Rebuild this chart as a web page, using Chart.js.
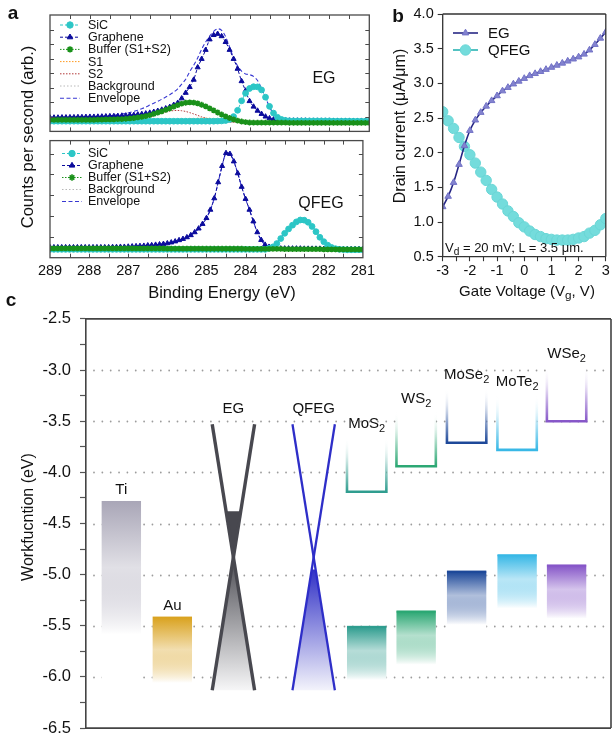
<!DOCTYPE html>
<html>
<head>
<meta charset="utf-8">
<script src="https://cdn.jsdelivr.net/npm/chart.js@4.4.1/dist/chart.umd.min.js"></script>
<style>
  body { margin: 0; background: #fff; }
  #page { position: relative; width: 612px; height: 747px; overflow: hidden;
          font-family: "Liberation Sans", Arial, sans-serif; color: #111; }
  canvas { position: absolute; }
  .t { position: absolute; white-space: nowrap; transform: translate(-50%, -50%); }
  .v { transform: translate(-50%, -50%) rotate(-90deg); }
  .l { position: absolute; white-space: nowrap; transform: translateY(-50%); }
  .lab { position: absolute; font-weight: bold; font-size: 19px; transform: translate(-50%, -50%); }
  sub { font-size: 78%; vertical-align: -0.3em; line-height: 0; }
</style>
</head>
<body>
<div id="page">
  <canvas id="aTop" width="380" height="137" style="left:0;top:0"></canvas>
  <canvas id="aBot" width="380" height="170" style="left:0;top:135px"></canvas>
  <canvas id="b" width="222" height="290" style="left:390px;top:0"></canvas>
  <canvas id="c" width="612" height="447" style="left:0;top:300px"></canvas>

  <div class="lab" style="left:13px;top:13px">a</div>
  <div class="lab" style="left:398px;top:16px">b</div>
  <div class="lab" style="left:11px;top:300px">c</div>

  <div class="t v" style="left:27px;top:137px;font-size:16.5px">Counts per second (arb.)</div>
  <div class="t" style="left:222px;top:292px;font-size:16.5px">Binding Energy (eV)</div>
  <div class="t" style="left:324px;top:78px;font-size:16px">EG</div>
  <div class="t" style="left:321px;top:203px;font-size:16px">QFEG</div>

  <div class="t v" style="left:400px;top:126px;font-size:16px">Drain current (μA/μm)</div>
  <div class="t" style="left:527px;top:290px;font-size:15px">Gate Voltage (V<sub>g</sub>, V)</div>
  <div class="l" style="left:445px;top:247px;font-size:13px">V<sub>d</sub> = 20 mV; L = 3.5 μm.</div>

  <div class="t v" style="left:28px;top:517px;font-size:16px">Workfucntion (eV)</div>
</div>

<script>
// ---------- panel a : XPS C1s spectra ----------
const energy = [
  289.0, 288.9, 288.8, 288.7, 288.6, 288.5, 288.4, 288.3, 288.2, 288.1,
  288.0, 287.9, 287.8, 287.7, 287.6, 287.5, 287.4, 287.3, 287.2, 287.1,
  287.0, 286.9, 286.8, 286.7, 286.6, 286.5, 286.4, 286.3, 286.2, 286.1,
  286.0, 285.9, 285.8, 285.7, 285.6, 285.5, 285.4, 285.3, 285.2, 285.1,
  285.0, 284.9, 284.8, 284.7, 284.6, 284.5, 284.4, 284.3, 284.2, 284.1,
  284.0, 283.9, 283.8, 283.7, 283.6, 283.5, 283.4, 283.3, 283.2, 283.1,
  283.0, 282.9, 282.8, 282.7, 282.6, 282.5, 282.4, 282.3, 282.2, 282.1,
  282.0, 281.9, 281.8, 281.7, 281.6, 281.5, 281.4, 281.3, 281.2, 281.1,
  281.0
];

// EG (top plot)
const sicEG = [
  0.70, 0.70, 0.70, 0.70, 0.70, 0.70, 0.70, 0.70, 0.70, 0.70,
  0.70, 0.70, 0.70, 0.70, 0.70, 0.70, 0.70, 0.70, 0.70, 0.70,
  0.70, 0.70, 0.70, 0.70, 0.70, 0.70, 0.70, 0.70, 0.70, 0.70,
  0.70, 0.70, 0.70, 0.70, 0.70, 0.70, 0.70, 0.70, 0.70, 0.70,
  0.70, 0.70, 0.71, 0.72, 0.75, 0.82, 1.02, 1.45, 2.10, 2.62,
  2.95, 3.07, 3.06, 2.85, 2.35, 1.72, 1.26, 0.97, 0.82, 0.76,
  0.73, 0.72, 0.72, 0.72, 0.72, 0.72, 0.72, 0.72, 0.72, 0.72,
  0.72, 0.71, 0.71, 0.71, 0.71, 0.71, 0.70, 0.70, 0.70, 0.70,
  0.70
];
const grapheneEG = [
  0.95, 0.95, 0.95, 0.96, 0.96, 0.97, 0.97, 0.98, 0.98, 0.99,
  1.00, 1.00, 1.01, 1.02, 1.03, 1.04, 1.05, 1.06, 1.08, 1.09,
  1.11, 1.13, 1.16, 1.19, 1.23, 1.28, 1.34, 1.41, 1.49, 1.58,
  1.68, 1.82, 1.96, 2.27, 2.65, 3.05, 3.55, 4.40, 4.98, 5.60,
  6.32, 6.62, 6.70, 6.54, 6.14, 5.60, 4.98, 4.30, 3.45, 2.80,
  2.08, 1.70, 1.42, 1.20, 1.02, 0.90, 0.82, 0.78, 0.76, 0.75,
  0.74, 0.74, 0.74, 0.74, 0.74, 0.73, 0.73, 0.73, 0.73, 0.73,
  0.73, 0.72, 0.72, 0.72, 0.72, 0.72, 0.72, 0.72, 0.72, 0.72,
  0.72
];
const bufferEG = [
  0.80, 0.80, 0.80, 0.80, 0.80, 0.80, 0.80, 0.80, 0.80, 0.80,
  0.80, 0.80, 0.81, 0.81, 0.82, 0.82, 0.83, 0.84, 0.85, 0.87,
  0.89, 0.92, 0.96, 1.00, 1.05, 1.12, 1.20, 1.29, 1.38, 1.48,
  1.58, 1.70, 1.81, 1.91, 1.97, 1.99, 1.98, 1.92, 1.83, 1.72,
  1.58, 1.44, 1.30, 1.16, 1.03, 0.92, 0.82, 0.74, 0.68, 0.64,
  0.61, 0.60, 0.60, 0.60, 0.60, 0.60, 0.60, 0.60, 0.60, 0.60,
  0.59, 0.59, 0.59, 0.59, 0.59, 0.59, 0.59, 0.59, 0.59, 0.59,
  0.58, 0.58, 0.58, 0.58, 0.58, 0.58, 0.58, 0.58, 0.58, 0.58,
  0.58
];
const s1EG = [
  0.66, 0.66, 0.66, 0.66, 0.66, 0.66, 0.66, 0.66, 0.66, 0.66,
  0.66, 0.66, 0.66, 0.66, 0.66, 0.66, 0.66, 0.66, 0.66, 0.66,
  0.66, 0.66, 0.66, 0.66, 0.66, 0.66, 0.67, 0.68, 0.69, 0.70,
  0.72, 0.74, 0.76, 0.79, 0.82, 0.85, 0.88, 0.90, 0.91, 0.91,
  0.90, 0.88, 0.85, 0.81, 0.77, 0.73, 0.70, 0.67, 0.65, 0.64,
  0.63, 0.62, 0.62, 0.62, 0.62, 0.62, 0.62, 0.62, 0.62, 0.62,
  0.61, 0.61, 0.61, 0.61, 0.61, 0.61, 0.61, 0.61, 0.61, 0.61,
  0.60, 0.60, 0.60, 0.60, 0.60, 0.60, 0.60, 0.60, 0.60, 0.60,
  0.60
];
const s2EG = [
  0.66, 0.66, 0.66, 0.66, 0.66, 0.66, 0.66, 0.66, 0.66, 0.66,
  0.66, 0.66, 0.66, 0.66, 0.67, 0.67, 0.68, 0.69, 0.70, 0.72,
  0.74, 0.77, 0.81, 0.86, 0.92, 0.99, 1.07, 1.16, 1.25, 1.33,
  1.39, 1.43, 1.44, 1.42, 1.37, 1.29, 1.20, 1.10, 1.00, 0.91,
  0.83, 0.77, 0.72, 0.68, 0.66, 0.64, 0.63, 0.63, 0.63, 0.62,
  0.62, 0.62, 0.62, 0.62, 0.62, 0.62, 0.62, 0.62, 0.62, 0.62,
  0.61, 0.61, 0.61, 0.61, 0.61, 0.61, 0.61, 0.61, 0.61, 0.61,
  0.60, 0.60, 0.60, 0.60, 0.60, 0.60, 0.60, 0.60, 0.60, 0.60,
  0.60
];
const backgroundEG = [
  0.68, 0.68, 0.68, 0.68, 0.68, 0.68, 0.68, 0.68, 0.68, 0.68,
  0.68, 0.68, 0.68, 0.68, 0.68, 0.68, 0.68, 0.68, 0.68, 0.68,
  0.68, 0.68, 0.68, 0.68, 0.68, 0.68, 0.68, 0.68, 0.68, 0.68,
  0.68, 0.68, 0.68, 0.68, 0.67, 0.67, 0.67, 0.67, 0.66, 0.66,
  0.66, 0.65, 0.65, 0.64, 0.63, 0.63, 0.62, 0.62, 0.61, 0.61,
  0.60, 0.60, 0.60, 0.60, 0.60, 0.60, 0.60, 0.60, 0.60, 0.60,
  0.59, 0.59, 0.59, 0.59, 0.59, 0.59, 0.59, 0.59, 0.59, 0.59,
  0.58, 0.58, 0.58, 0.58, 0.58, 0.58, 0.58, 0.58, 0.58, 0.58,
  0.58
];
const envelopeEG = [
  0.97, 0.97, 0.98, 0.98, 0.99, 0.99, 1.00, 1.00, 1.01, 1.01,
  1.02, 1.02, 1.03, 1.04, 1.05, 1.08, 1.11, 1.15, 1.19, 1.24,
  1.30, 1.38, 1.46, 1.56, 1.67, 1.81, 1.94, 2.07, 2.21, 2.36,
  2.52, 2.70, 2.93, 3.25, 3.58, 4.10, 4.55, 5.05, 5.65, 6.15,
  6.55, 6.88, 7.05, 6.95, 6.50, 5.80, 5.05, 4.50, 4.15, 3.95,
  3.90, 3.78, 3.50, 2.95, 2.32, 1.68, 1.20, 0.92, 0.80, 0.76,
  0.75, 0.74, 0.74, 0.74, 0.74, 0.73, 0.73, 0.73, 0.73, 0.73,
  0.73, 0.72, 0.72, 0.72, 0.72, 0.72, 0.72, 0.72, 0.72, 0.72,
  0.72
];

// QFEG (bottom plot)
const sicQF = [
  0.40, 0.40, 0.40, 0.40, 0.40, 0.40, 0.40, 0.40, 0.40, 0.40,
  0.40, 0.40, 0.40, 0.40, 0.40, 0.40, 0.40, 0.40, 0.40, 0.40,
  0.40, 0.40, 0.40, 0.40, 0.40, 0.40, 0.40, 0.40, 0.40, 0.40,
  0.40, 0.40, 0.40, 0.40, 0.40, 0.40, 0.40, 0.40, 0.40, 0.40,
  0.40, 0.40, 0.40, 0.40, 0.40, 0.40, 0.40, 0.40, 0.40, 0.40,
  0.40, 0.40, 0.40, 0.40, 0.40, 0.40, 0.45, 0.52, 0.68, 0.92,
  1.17, 1.38, 1.56, 1.72, 1.81, 1.80, 1.70, 1.50, 1.25, 0.98,
  0.77, 0.60, 0.49, 0.43, 0.40, 0.39, 0.38, 0.38, 0.38, 0.38,
  0.38
];
const grapheneQF = [
  0.50, 0.50, 0.50, 0.50, 0.50, 0.50, 0.50, 0.50, 0.50, 0.50,
  0.50, 0.50, 0.50, 0.50, 0.50, 0.50, 0.51, 0.51, 0.52, 0.52,
  0.53, 0.54, 0.55, 0.56, 0.57, 0.59, 0.60, 0.62, 0.64, 0.66,
  0.69, 0.73, 0.78, 0.84, 0.90, 0.98, 1.08, 1.22, 1.40, 1.62,
  1.90, 2.30, 2.85, 3.62, 4.40, 5.02, 4.98, 4.62, 4.05, 3.40,
  2.82, 2.30, 1.74, 1.22, 0.85, 0.62, 0.52, 0.47, 0.45, 0.44,
  0.44, 0.44, 0.44, 0.44, 0.44, 0.43, 0.43, 0.43, 0.43, 0.43,
  0.42, 0.42, 0.42, 0.42, 0.42, 0.41, 0.41, 0.41, 0.41, 0.41,
  0.41
];
const bufferQF = [
  0.45, 0.45, 0.45, 0.45, 0.45, 0.45, 0.45, 0.45, 0.45, 0.45,
  0.45, 0.45, 0.45, 0.45, 0.45, 0.45, 0.45, 0.45, 0.45, 0.45,
  0.45, 0.45, 0.45, 0.45, 0.45, 0.45, 0.45, 0.45, 0.45, 0.45,
  0.44, 0.44, 0.44, 0.44, 0.44, 0.44, 0.44, 0.44, 0.44, 0.44,
  0.43, 0.43, 0.43, 0.43, 0.43, 0.43, 0.43, 0.43, 0.43, 0.43,
  0.42, 0.42, 0.42, 0.42, 0.42, 0.42, 0.42, 0.42, 0.42, 0.42,
  0.41, 0.41, 0.41, 0.41, 0.41, 0.41, 0.41, 0.41, 0.41, 0.41,
  0.40, 0.40, 0.40, 0.40, 0.40, 0.40, 0.40, 0.40, 0.40, 0.40,
  0.40
];
const backgroundQF = [
  0.43, 0.43, 0.43, 0.43, 0.43, 0.43, 0.43, 0.43, 0.43, 0.43,
  0.43, 0.43, 0.43, 0.43, 0.43, 0.43, 0.43, 0.43, 0.43, 0.43,
  0.43, 0.43, 0.43, 0.43, 0.43, 0.43, 0.43, 0.43, 0.43, 0.43,
  0.42, 0.42, 0.42, 0.42, 0.42, 0.42, 0.42, 0.42, 0.42, 0.42,
  0.42, 0.42, 0.41, 0.41, 0.41, 0.41, 0.41, 0.41, 0.41, 0.41,
  0.40, 0.40, 0.40, 0.40, 0.40, 0.40, 0.40, 0.40, 0.40, 0.40,
  0.40, 0.40, 0.40, 0.40, 0.40, 0.39, 0.39, 0.39, 0.39, 0.39,
  0.39, 0.39, 0.39, 0.39, 0.39, 0.39, 0.39, 0.39, 0.39, 0.39,
  0.39
];
const envelopeQF = [
  0.50, 0.50, 0.50, 0.50, 0.50, 0.50, 0.50, 0.50, 0.50, 0.50,
  0.50, 0.50, 0.50, 0.50, 0.50, 0.50, 0.51, 0.51, 0.52, 0.52,
  0.53, 0.54, 0.55, 0.56, 0.57, 0.59, 0.60, 0.62, 0.64, 0.66,
  0.69, 0.73, 0.78, 0.84, 0.90, 0.98, 1.08, 1.22, 1.40, 1.62,
  1.90, 2.30, 2.85, 3.62, 4.40, 5.02, 4.98, 4.62, 4.05, 3.40,
  2.82, 2.30, 1.74, 1.22, 0.85, 0.62, 0.55, 0.57, 0.72, 0.96,
  1.21, 1.42, 1.60, 1.76, 1.85, 1.84, 1.74, 1.54, 1.29, 1.02,
  0.81, 0.64, 0.53, 0.47, 0.44, 0.43, 0.42, 0.42, 0.42, 0.42,
  0.42
];

// ---------- panel b : transfer curves ----------
const gateVoltage = [
  -3.0, -2.8, -2.6, -2.4, -2.2, -2.0, -1.8, -1.6, -1.4, -1.2, -1.0,
  -0.8, -0.6, -0.4, -0.2, 0.0, 0.2, 0.4, 0.6, 0.8, 1.0,
  1.2, 1.4, 1.6, 1.8, 2.0, 2.2, 2.4, 2.6, 2.8, 3.0
];
const currentEG = [
  1.22, 1.37, 1.57, 1.83, 2.10, 2.32, 2.47, 2.58, 2.67, 2.75, 2.82,
  2.89, 2.94, 2.99, 3.03, 3.07, 3.11, 3.14, 3.17, 3.20, 3.23,
  3.26, 3.29, 3.32, 3.35, 3.38, 3.42, 3.48, 3.56, 3.65, 3.74
];
const currentQFEG = [
  2.59, 2.46, 2.35, 2.22, 2.09, 1.97, 1.85, 1.72, 1.60, 1.47, 1.36,
  1.26, 1.16, 1.08, 0.99, 0.93, 0.87, 0.82, 0.79, 0.76, 0.75,
  0.74, 0.74, 0.74, 0.75, 0.77, 0.79, 0.84, 0.88, 0.96, 1.05
];

// ---------- panel c : band alignment ----------
const metals = ['Ti', 'Au'];
const metalWorkfunction = [-4.28, -5.41];
const graphenes = ['EG', 'QFEG'];
const fermiLevel = [-4.38, -4.95];
const coneTop = [-3.53, -3.53];
const coneBottom = [-6.13, -6.13];
const tmds = ['MoS2', 'WS2', 'MoSe2', 'MoTe2', 'WSe2'];
const conductionMin = [-4.19, -3.94, -3.71, -3.78, -3.50];
const valenceMax = [-5.51, -5.36, -4.97, -4.81, -4.91];

// layout / style for panel c (x in slot units)
const metalSlot = [0.70, 1.71];
const grapheneSlot = [2.92, 4.51];
const tmdSlot = [5.56, 6.54, 7.54, 8.54, 9.52];
const barHalf = 0.39, coneHalf = 0.42;
const metalColor = ['#a9a6b7', '#d9a11c'];
const metalFade = [1.45, 0.72];
const coneColor = ['#48484f', '#2e2ec8'];
const tmdColor = ['#2f9d8f', '#2ba773', '#1d4899', '#38b8e6', '#8656c8'];
const cbDepth = 0.53, vbFade = 0.52;

const FONT = '"Liberation Sans", Arial, sans-serif';
Chart.defaults.font.family = FONT;
Chart.defaults.color = '#111';
Chart.defaults.animation = false;
Chart.defaults.events = [];
Chart.defaults.plugins.legend.display = false;
Chart.defaults.plugins.tooltip.enabled = false;

function pts(xs, ys) { return xs.map((v, i) => ({ x: v, y: ys[i] })); }

function hexA(hex, a) {
  const n = parseInt(hex.slice(1), 16);
  return 'rgba(' + (n >> 16) + ',' + ((n >> 8) & 255) + ',' + (n & 255) + ',' + a + ')';
}

function drawMarker(ctx, style, r, x, y, fill, stroke, bw) {
  ctx.save();
  ctx.fillStyle = fill; ctx.strokeStyle = stroke; ctx.lineWidth = bw; ctx.setLineDash([]);
  Chart.helpers.drawPoint(ctx, { pointStyle: style, radius: r, borderWidth: bw, rotation: 0 }, x, y);
  ctx.restore();
}

// inward ticks + box for the XPS plots
const xpsFrame = {
  id: 'xpsFrame',
  afterDatasetsDraw(chart) {
    const { ctx, chartArea: a, scales: { x, y } } = chart;
    ctx.save();
    ctx.strokeStyle = '#4a4a4a';
    ctx.lineWidth = 1;
    ctx.beginPath();
    for (let v = x.min + 0.5; v < x.max; v += 0.5) {
      const p = Math.round(x.getPixelForValue(v)) + 0.5;
      ctx.moveTo(p, a.top); ctx.lineTo(p, a.top + 4);
      ctx.moveTo(p, a.bottom); ctx.lineTo(p, a.bottom - 4);
    }
    for (let v = y.min + 1; v < y.max; v += 1) {
      const p = Math.round(y.getPixelForValue(v)) + 0.5;
      ctx.moveTo(a.left, p); ctx.lineTo(a.left + 4, p);
      ctx.moveTo(a.right, p); ctx.lineTo(a.right - 4, p);
    }
    ctx.stroke();
    ctx.lineWidth = 1.3;
    ctx.strokeRect(a.left, a.top, a.width, a.height);
    ctx.restore();
  }
};

// legend drawn inside the plot area
const innerLegend = {
  id: 'innerLegend',
  afterDraw(chart, args, o) {
    const ctx = chart.ctx;
    ctx.save();
    ctx.font = o.font + 'px ' + FONT;
    ctx.textBaseline = 'middle';
    chart.data.datasets.forEach((ds, i) => {
      const y = o.rows[i];
      ctx.strokeStyle = ds.borderColor;
      ctx.lineWidth = ds.borderWidth;
      ctx.setLineDash(ds.borderDash || []);
      ctx.beginPath(); ctx.moveTo(o.x0, y); ctx.lineTo(o.x1, y); ctx.stroke();
      if (ds.pointRadius > 0) {
        drawMarker(ctx, ds.pointStyle, o.markerR || ds.pointRadius, (o.x0 + o.x1) / 2, y,
                   ds.pointBackgroundColor, ds.pointBorderColor, ds.pointBorderWidth);
      }
      ctx.fillStyle = '#111';
      ctx.fillText(ds.label, o.tx, y + 0.5);
    });
    ctx.restore();
  }
};

function xpsSeries(label, data, color, style, order, opts) {
  return Object.assign({
    label, data: pts(energy, data), order,
    borderColor: color, borderWidth: 1, borderDash: [3, 2],
    pointStyle: style, pointRadius: style ? 2.9 : 0,
    pointBackgroundColor: color, pointBorderColor: color, pointBorderWidth: 1,
    tension: 0.3, fill: false
  }, opts || {});
}

const colSiC = '#2cc6c6', colGr = '#0b0b9c', colBuf = '#1a911a';
const colS1 = '#ff9a1f', colS2 = '#b33a3a', colBg = '#b8b8b8', colEnv = '#3838d2';

function xpsScales(ymax, showX) {
  const x = {
    type: 'linear', min: 281, max: 289, reverse: true, display: showX,
    ticks: { stepSize: 1, font: { size: 14.5 }, padding: 5, color: '#111' },
    grid: { drawOnChartArea: false, drawTicks: false },
    border: { display: false }
  };
  if (showX) x.afterFit = s => { s.height = 47.3; };
  return { x, y: { type: 'linear', min: 0, max: ymax, display: false } };
}

new Chart(document.getElementById('aTop'), {
  type: 'line',
  data: {
    datasets: [
      xpsSeries('SiC', sicEG, colSiC, 'circle', 2),
      xpsSeries('Graphene', grapheneEG, colGr, 'triangle', 3),
      xpsSeries('Buffer (S1+S2)', bufferEG, colBuf, 'star', 1, { borderDash: [1.5, 1.5], pointBorderWidth: 1.6 }),
      xpsSeries('S1', s1EG, colS1, null, 5, { borderDash: [1.5, 1.5] }),
      xpsSeries('S2', s2EG, colS2, null, 4, { borderDash: [1.5, 1.5] }),
      xpsSeries('Background', backgroundEG, colBg, null, 6, { borderDash: [1.5, 2] }),
      xpsSeries('Envelope', envelopeEG, colEnv, null, 7, { borderDash: [4, 2.5], borderWidth: 1.1 })
    ]
  },
  options: {
    responsive: false, devicePixelRatio: 1,
    layout: { padding: { left: 50, right: 10.7, top: 15, bottom: 1 } },
    scales: xpsScales(8, false),
    plugins: { innerLegend: { font: 12.5, x0: 60, x1: 80, tx: 88, markerR: 3.2,
                              rows: [25, 37.2, 49.4, 61.6, 73.8, 86, 98.2] } }
  },
  plugins: [xpsFrame, innerLegend]
});

new Chart(document.getElementById('aBot'), {
  type: 'line',
  data: {
    datasets: [
      xpsSeries('SiC', sicQF, colSiC, 'circle', 2),
      xpsSeries('Graphene', grapheneQF, colGr, 'triangle', 3),
      xpsSeries('Buffer (S1+S2)', bufferQF, colBuf, 'star', 1, { borderDash: [1.5, 1.5], pointBorderWidth: 1.6 }),
      xpsSeries('Background', backgroundQF, colBg, null, 6, { borderDash: [1.5, 2] }),
      xpsSeries('Envelope', envelopeQF, colEnv, null, 7, { borderDash: [4, 2.5], borderWidth: 1.1 })
    ]
  },
  options: {
    responsive: false, devicePixelRatio: 1,
    layout: { padding: { left: 50, right: 10.7, top: 1, bottom: 0 } },
    scales: xpsScales(5.62, true),
    plugins: { innerLegend: { font: 12.5, x0: 62, x1: 82, tx: 88, markerR: 3.2,
                              rows: [18.5, 30.5, 42.5, 54.5, 66.5] } }
  },
  plugins: [xpsFrame, innerLegend]
});

// ---------- panel b chart ----------
const boxFrame = {
  id: 'boxFrame',
  afterDraw(chart, args, o) {
    const { ctx, chartArea: a } = chart;
    ctx.save();
    ctx.strokeStyle = o.color; ctx.lineWidth = o.width;
    ctx.beginPath();
    if (o.sides.includes('t')) { ctx.moveTo(a.left, a.top); ctx.lineTo(a.right, a.top); }
    if (o.sides.includes('r')) { ctx.moveTo(a.right, a.top); ctx.lineTo(a.right, a.bottom); }
    if (o.sides.includes('b')) { ctx.moveTo(a.left, a.bottom); ctx.lineTo(a.right, a.bottom); }
    if (o.sides.includes('l')) { ctx.moveTo(a.left, a.top); ctx.lineTo(a.left, a.bottom); }
    ctx.stroke();
    ctx.restore();
  }
};

new Chart(document.getElementById('b'), {
  type: 'line',
  data: {
    datasets: [
      { label: 'EG', data: pts(gateVoltage, currentEG), order: 1,
        borderColor: '#272785', borderWidth: 1.6, tension: 0.3,
        pointStyle: 'triangle', pointRadius: 3.8,
        pointBackgroundColor: '#8383cf', pointBorderColor: '#7272c6', pointBorderWidth: 1 },
      { label: 'QFEG', data: pts(gateVoltage, currentQFEG), order: 2,
        borderColor: '#27b3b3', borderWidth: 1.6, tension: 0.3,
        pointStyle: 'circle', pointRadius: 5.2,
        pointBackgroundColor: '#74dcdc', pointBorderColor: '#6ad6d6', pointBorderWidth: 1 }
    ]
  },
  options: {
    responsive: false, devicePixelRatio: 1,
    layout: { padding: { left: 0, right: 0.6, top: 14, bottom: 0 } },
    scales: {
      x: {
        type: 'linear', min: -3, max: 3,
        ticks: { stepSize: 0.5, autoSkip: false, maxRotation: 0, font: { size: 14.5 }, padding: 1, color: '#111',
                 callback: v => Number.isInteger(v) ? String(v) : '' },
        grid: { drawOnChartArea: false, tickLength: 4.5, tickColor: '#333', tickWidth: 1.1 },
        border: { display: false },
        afterFit: s => { s.height = 33.3; }
      },
      y: {
        type: 'linear', min: 0.5, max: 4,
        ticks: { stepSize: 0.5, autoSkip: false, font: { size: 14.5 }, padding: 4, color: '#111',
                 callback: v => v.toFixed(1) },
        grid: { drawOnChartArea: false, tickLength: 5, tickColor: '#333', tickWidth: 1.1 },
        border: { display: false },
        afterFit: s => { s.width = 52.7; }
      }
    },
    plugins: {
      boxFrame: { color: '#333', width: 1.3, sides: 'trbl' },
      innerLegend: { font: 15, x0: 63, x1: 88, tx: 98, rows: [33, 50] }
    }
  },
  plugins: [boxFrame, innerLegend]
});

// ---------- panel c chart ----------
function isHalfStep(v) { return Math.abs(v * 2 - Math.round(v * 2)) < 1e-6; }

function subLabel(ctx, name, cx, cy) {
  const m = name.match(/^(.*?)(\d*)$/);
  ctx.font = '15px ' + FONT;
  const w1 = ctx.measureText(m[1]).width;
  ctx.font = '11px ' + FONT;
  const w2 = ctx.measureText(m[2]).width;
  const x0 = cx - (w1 + w2) / 2;
  ctx.textAlign = 'left'; ctx.textBaseline = 'middle'; ctx.fillStyle = '#111';
  ctx.font = '15px ' + FONT; ctx.fillText(m[1], x0, cy);
  ctx.font = '11px ' + FONT; ctx.fillText(m[2], x0 + w1, cy + 5);
}

const bands = {
  id: 'bands',
  beforeDatasetsDraw(chart) {
    const { ctx, chartArea: a, scales: { x, y } } = chart;
    const X = v => x.getPixelForValue(v), Y = v => y.getPixelForValue(v);
    ctx.save();

    // dotted reference lines at the labelled levels
    ctx.strokeStyle = '#9c9c9c'; ctx.lineWidth = 1.8; ctx.lineCap = 'round';
    ctx.setLineDash([0, 8.35]);
    y.ticks.forEach(t => {
      if (t.value <= y.min + 1e-6 || t.value >= y.max - 1e-6 || !isHalfStep(t.value)) return;
      const py = Math.round(Y(t.value)) + 0.5;
      ctx.beginPath(); ctx.moveTo(a.left + 8, py); ctx.lineTo(a.right - 2, py); ctx.stroke();
    });
    ctx.setLineDash([]); ctx.lineCap = 'butt';

    // metal contacts
    metals.forEach((name, i) => {
      const cx = X(metalSlot[i]), hw = X(metalSlot[i] + barHalf) - cx;
      const top = Y(metalWorkfunction[i]), bot = Y(metalWorkfunction[i] - metalFade[i]);
      const g = ctx.createLinearGradient(0, top, 0, bot);
      g.addColorStop(0, metalColor[i]);
      g.addColorStop(0.45, hexA(metalColor[i], 0.35));
      g.addColorStop(0.9, 'rgba(255,255,255,1)');
      ctx.fillStyle = '#ffffff'; ctx.fillRect(cx - hw, top, 2 * hw, bot - top + 30);
      ctx.fillStyle = g; ctx.fillRect(cx - hw, top, 2 * hw, bot - top);
      subLabel(ctx, name, cx, Y(metalWorkfunction[i] + 0.105));
    });

    // graphene Dirac cones (fills; the cone edges are datasets)
    graphenes.forEach((name, i) => {
      const cx = X(grapheneSlot[i]), hw = X(grapheneSlot[i] + coneHalf) - cx;
      const top = Y(coneTop[i]), bot = Y(coneBottom[i]);
      const dirac = (coneTop[i] + coneBottom[i]) / 2, yd = Y(dirac);
      const halfAt = e => hw * Math.abs(e - dirac) / (coneTop[i] - dirac);
      const yf = Y(fermiLevel[i]), wf = halfAt(fermiLevel[i]);
      if (i === 0) {
        ctx.fillStyle = '#ffffff';
        ctx.beginPath(); ctx.moveTo(cx - hw, top); ctx.lineTo(cx + hw, top); ctx.lineTo(cx, yd); ctx.closePath(); ctx.fill();
        ctx.fillStyle = coneColor[0];
        ctx.beginPath(); ctx.moveTo(cx - wf, yf); ctx.lineTo(cx + wf, yf); ctx.lineTo(cx, yd); ctx.closePath(); ctx.fill();
        const g = ctx.createLinearGradient(0, yd, 0, bot);
        g.addColorStop(0, '#4d4d54'); g.addColorStop(1, '#f6f6f7');
        ctx.fillStyle = g;
        ctx.beginPath(); ctx.moveTo(cx, yd); ctx.lineTo(cx + hw, bot); ctx.lineTo(cx - hw, bot); ctx.closePath(); ctx.fill();
      } else {
        const g = ctx.createLinearGradient(0, yf, 0, bot);
        g.addColorStop(0, '#3232c6'); g.addColorStop(1, '#f3f3fb');
        ctx.fillStyle = g;
        ctx.beginPath(); ctx.moveTo(cx - wf, yf); ctx.lineTo(cx + wf, yf); ctx.lineTo(cx + hw, bot); ctx.lineTo(cx - hw, bot); ctx.closePath(); ctx.fill();
      }
      subLabel(ctx, name, cx, Y(coneTop[i] + 0.15));
    });

    // semiconductor band edges
    tmds.forEach((name, i) => {
      const cx = X(tmdSlot[i]), hw = X(tmdSlot[i] + barHalf) - cx;
      // conduction band: open box fading upwards
      const yb = Y(conductionMin[i]), yt = Y(conductionMin[i] + cbDepth);
      ctx.fillStyle = '#ffffff';
      ctx.fillRect(cx - hw, yt - 10, 2 * hw, yb - yt + 10);
      const gs = ctx.createLinearGradient(0, yb, 0, yt);
      gs.addColorStop(0, tmdColor[i]); gs.addColorStop(0.5, hexA(tmdColor[i], 0.35)); gs.addColorStop(1, 'rgba(255,255,255,0)');
      ctx.strokeStyle = gs; ctx.lineWidth = 2.6;
      ctx.beginPath();
      ctx.moveTo(cx - hw, yt); ctx.lineTo(cx - hw, yb); ctx.lineTo(cx + hw, yb); ctx.lineTo(cx + hw, yt);
      ctx.stroke();
      subLabel(ctx, name, cx, Y(conductionMin[i] + 0.66));
      // valence band: filled bar fading downwards
      const vt = Y(valenceMax[i]), vb = Y(valenceMax[i] - vbFade);
      const gv = ctx.createLinearGradient(0, vt, 0, vb);
      gv.addColorStop(0, tmdColor[i]); gv.addColorStop(0.45, hexA(tmdColor[i], 0.35)); gv.addColorStop(1, 'rgba(255,255,255,1)');
      ctx.fillStyle = '#ffffff'; ctx.fillRect(cx - hw, vt, 2 * hw, vb - vt + 4);
      ctx.fillStyle = gv; ctx.fillRect(cx - hw, vt, 2 * hw, vb - vt);
      ctx.fillStyle = tmdColor[i]; ctx.fillRect(cx - hw, vt - 1, 2 * hw, 2);
    });
    ctx.restore();
  }
};

const coneEdges = [];
graphenes.forEach((name, i) => {
  const s = grapheneSlot[i];
  const style = { borderColor: coneColor[i], borderWidth: i === 0 ? 3.4 : 2.3, pointRadius: 0, showLine: true };
  coneEdges.push(Object.assign({ data: [{ x: s - coneHalf, y: coneTop[i] }, { x: s + coneHalf, y: coneBottom[i] }] }, style));
  coneEdges.push(Object.assign({ data: [{ x: s + coneHalf, y: coneTop[i] }, { x: s - coneHalf, y: coneBottom[i] }] }, style));
});

new Chart(document.getElementById('c'), {
  type: 'scatter',
  data: { datasets: coneEdges },
  options: {
    responsive: false, devicePixelRatio: 1,
    layout: { padding: { left: 0, right: 1, top: 13, bottom: 7 } },
    scales: {
      x: { type: 'linear', min: 0, max: 10.4, display: false },
      y: {
        type: 'linear', min: -6.5, max: -2.5,
        ticks: { stepSize: 0.25, autoSkip: false, font: { size: 16.5 }, padding: 9, color: '#111',
                 callback: v => isHalfStep(v) ? v.toFixed(1) : '' },
        grid: { drawOnChartArea: false, tickLength: 6, tickColor: '#555', tickWidth: 1.2 },
        border: { display: true, color: '#444', width: 1.6 },
        afterFit: s => { s.width = 86; }
      }
    },
    plugins: { boxFrame: { color: '#444', width: 1.6, sides: 'trb' } }
  },
  plugins: [bands, boxFrame]
});
</script>
</body>
</html>
